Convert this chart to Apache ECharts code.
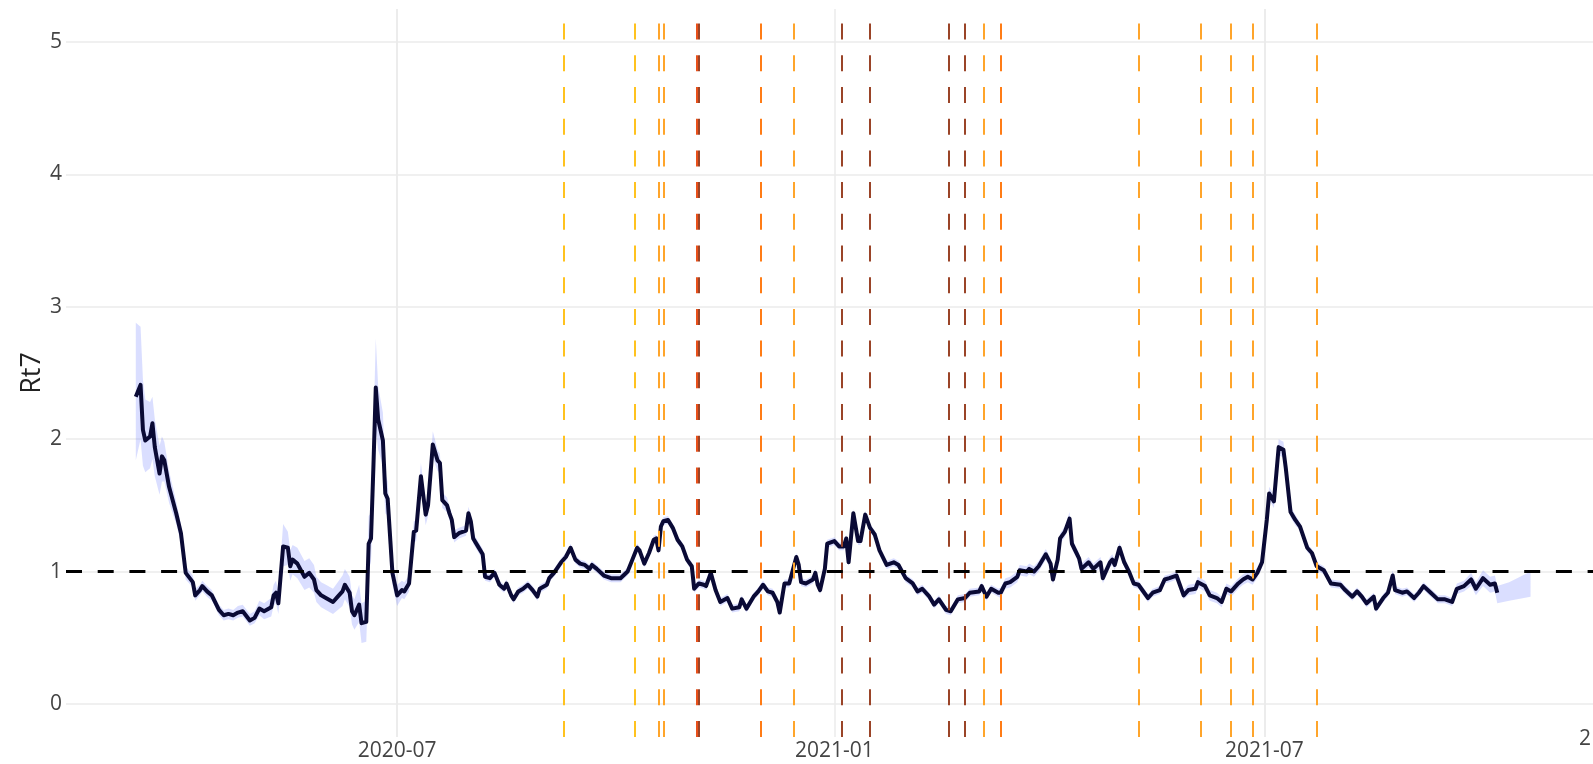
<!DOCTYPE html>
<html>
<head>
<meta charset="utf-8">
<script src="https://cdn.jsdelivr.net/npm/echarts@6/dist/echarts.min.js"></script>
<style>
  html, body { margin: 0; padding: 0; background: #fff; }
  #chart { width: 1593px; height: 764px; }
</style>
</head>
<body>
<div id="chart"></div>
<script>
const dates = [
  "2020-03-13","2020-03-15","2020-03-16","2020-03-17","2020-03-19","2020-03-20","2020-03-21","2020-03-23","2020-03-24","2020-03-25",
  "2020-03-27","2020-03-30","2020-04-01","2020-04-03","2020-04-06","2020-04-07","2020-04-09","2020-04-10","2020-04-12","2020-04-14",
  "2020-04-17","2020-04-19","2020-04-21","2020-04-23","2020-04-25","2020-04-27","2020-04-30","2020-05-02","2020-05-04","2020-05-06",
  "2020-05-09","2020-05-10","2020-05-11","2020-05-12","2020-05-14","2020-05-16","2020-05-17","2020-05-18","2020-05-20","2020-05-23",
  "2020-05-25","2020-05-27","2020-05-28","2020-05-30","2020-06-01","2020-06-04","2020-06-06","2020-06-08","2020-06-09","2020-06-11",
  "2020-06-12","2020-06-13","2020-06-15","2020-06-16","2020-06-18","2020-06-19","2020-06-20","2020-06-21","2020-06-22","2020-06-23",
  "2020-06-25","2020-06-26","2020-06-27","2020-06-29","2020-07-01","2020-07-03","2020-07-04","2020-07-06","2020-07-08","2020-07-09",
  "2020-07-11","2020-07-13","2020-07-14","2020-07-16","2020-07-18","2020-07-19","2020-07-20","2020-07-22","2020-07-23","2020-07-24",
  "2020-07-25","2020-07-27","2020-07-30","2020-07-31","2020-08-01","2020-08-02","2020-08-04","2020-08-06","2020-08-07","2020-08-09",
  "2020-08-11","2020-08-13","2020-08-15","2020-08-16","2020-08-18","2020-08-19","2020-08-21","2020-08-23","2020-08-25","2020-08-27",
  "2020-08-29","2020-08-30","2020-09-02","2020-09-03","2020-09-05","2020-09-08","2020-09-10","2020-09-12","2020-09-14","2020-09-16",
  "2020-09-18","2020-09-20","2020-09-21","2020-09-23","2020-09-26","2020-09-29","2020-10-01","2020-10-03","2020-10-06","2020-10-08",
  "2020-10-10","2020-10-11","2020-10-13","2020-10-15","2020-10-17","2020-10-18","2020-10-19","2020-10-20","2020-10-21","2020-10-23",
  "2020-10-25","2020-10-27","2020-10-29","2020-10-31","2020-11-02","2020-11-03","2020-11-05","2020-11-07","2020-11-08","2020-11-10",
  "2020-11-12","2020-11-14","2020-11-17","2020-11-19","2020-11-22","2020-11-23","2020-11-25","2020-11-28","2020-11-30","2020-12-02",
  "2020-12-04","2020-12-06","2020-12-08","2020-12-09","2020-12-11","2020-12-13","2020-12-16","2020-12-17","2020-12-18","2020-12-20",
  "2020-12-23","2020-12-24","2020-12-25","2020-12-26","2020-12-28","2020-12-29","2021-01-01","2021-01-03","2021-01-05","2021-01-06",
  "2021-01-07","2021-01-09","2021-01-11","2021-01-12","2021-01-14","2021-01-16","2021-01-18","2021-01-20","2021-01-23","2021-01-26",
  "2021-01-28","2021-01-31","2021-02-03","2021-02-05","2021-02-07","2021-02-10","2021-02-12","2021-02-14","2021-02-17","2021-02-19",
  "2021-02-22","2021-02-25","2021-02-27","2021-03-03","2021-03-04","2021-03-06","2021-03-08","2021-03-11","2021-03-12","2021-03-14",
  "2021-03-16","2021-03-19","2021-03-20","2021-03-23","2021-03-24","2021-03-26","2021-03-28","2021-03-31","2021-04-02","2021-04-03",
  "2021-04-05","2021-04-06","2021-04-08","2021-04-10","2021-04-11","2021-04-14","2021-04-15","2021-04-18","2021-04-20","2021-04-23",
  "2021-04-24","2021-04-27","2021-04-28","2021-04-29","2021-05-01","2021-05-03","2021-05-05","2021-05-07","2021-05-09","2021-05-13",
  "2021-05-15","2021-05-18","2021-05-20","2021-05-22","2021-05-25","2021-05-28","2021-05-30","2021-06-02","2021-06-03","2021-06-06",
  "2021-06-08","2021-06-11","2021-06-13","2021-06-15","2021-06-17","2021-06-20","2021-06-22","2021-06-24","2021-06-26","2021-06-28",
  "2021-06-30","2021-07-02","2021-07-03","2021-07-05","2021-07-07","2021-07-09","2021-07-10","2021-07-12","2021-07-14","2021-07-16",
  "2021-07-19","2021-07-21","2021-07-23","2021-07-26","2021-07-29","2021-08-02","2021-08-04","2021-08-07","2021-08-09","2021-08-11",
  "2021-08-13","2021-08-16","2021-08-17","2021-08-20","2021-08-22","2021-08-24","2021-08-25","2021-08-28","2021-08-30","2021-09-02",
  "2021-09-04","2021-09-06","2021-09-09","2021-09-12","2021-09-15","2021-09-18","2021-09-20","2021-09-23","2021-09-26","2021-09-28",
  "2021-10-01","2021-10-04","2021-10-06","2021-10-07","2021-10-12","2021-10-21"
];

const rt7 = [
  2.32,2.41,2.07,1.99,2.02,2.12,1.94,1.74,1.87,1.84,
  1.64,1.44,1.29,0.99,0.92,0.82,0.86,0.89,0.85,0.82,
  0.71,0.67,0.68,0.67,0.69,0.70,0.63,0.65,0.72,0.70,
  0.73,0.82,0.84,0.76,1.19,1.18,1.04,1.09,1.06,0.96,
  0.99,0.94,0.86,0.82,0.80,0.77,0.81,0.85,0.90,0.84,
  0.70,0.67,0.75,0.61,0.62,1.21,1.25,1.79,2.39,2.15,
  1.99,1.59,1.55,0.99,0.82,0.86,0.85,0.91,1.30,1.31,
  1.72,1.43,1.50,1.96,1.84,1.82,1.54,1.50,1.44,1.39,
  1.26,1.29,1.31,1.44,1.38,1.25,1.19,1.13,0.96,0.95,
  0.99,0.90,0.87,0.91,0.82,0.79,0.85,0.87,0.90,0.86,
  0.81,0.87,0.90,0.95,0.99,1.07,1.11,1.18,1.09,1.06,
  1.05,1.02,1.05,1.02,0.97,0.95,0.95,0.95,1.00,1.09,
  1.18,1.16,1.06,1.14,1.24,1.25,1.16,1.34,1.38,1.39,
  1.33,1.24,1.19,1.09,1.04,0.87,0.91,0.90,0.89,0.99,
  0.86,0.77,0.80,0.72,0.73,0.79,0.72,0.81,0.85,0.90,
  0.85,0.84,0.77,0.69,0.91,0.91,1.11,1.05,0.92,0.91,
  0.94,0.99,0.90,0.86,1.02,1.21,1.23,1.19,1.19,1.25,
  1.07,1.44,1.23,1.23,1.43,1.33,1.28,1.16,1.05,1.07,
  1.05,0.95,0.91,0.85,0.87,0.81,0.75,0.79,0.71,0.70,
  0.79,0.80,0.84,0.85,0.89,0.81,0.87,0.84,0.84,0.91,
  0.92,0.96,1.01,1.00,1.02,1.00,1.04,1.13,1.06,0.94,
  1.09,1.25,1.30,1.40,1.21,1.10,1.02,1.07,1.02,1.07,
  0.95,1.07,1.09,1.05,1.18,1.07,1.00,0.91,0.90,0.80,
  0.84,0.86,0.94,0.95,0.97,0.82,0.86,0.87,0.92,0.89,
  0.82,0.80,0.77,0.87,0.85,0.91,0.94,0.96,0.94,0.99,
  1.07,1.39,1.59,1.53,1.94,1.92,1.78,1.45,1.39,1.34,
  1.18,1.14,1.04,1.01,0.91,0.90,0.86,0.81,0.85,0.81,
  0.76,0.81,0.72,0.80,0.84,0.97,0.86,0.84,0.85,0.80,
  0.84,0.89,0.84,0.79,0.79,0.77,0.87,0.89,0.94,0.87,
  0.95,0.90,0.91,0.84,null,null
];

const rtLow = [
  1.84,2.00,1.80,1.75,1.78,1.85,1.72,1.58,1.68,1.68,
  1.52,1.36,1.22,0.94,0.88,0.78,0.82,0.85,0.81,0.78,
  0.67,0.63,0.64,0.63,0.65,0.66,0.59,0.61,0.67,0.64,
  0.66,0.74,0.76,0.68,1.04,1.05,0.93,0.98,0.95,0.86,
  0.88,0.84,0.77,0.73,0.71,0.68,0.71,0.74,0.79,0.73,
  0.60,0.56,0.62,0.46,0.47,1.00,1.08,1.55,2.08,1.92,
  1.80,1.44,1.42,0.90,0.74,0.80,0.79,0.85,1.22,1.23,
  1.62,1.35,1.42,1.86,1.76,1.75,1.48,1.45,1.39,1.34,
  1.22,1.25,1.27,1.39,1.33,1.21,1.15,1.09,0.93,0.92,
  0.96,0.87,0.84,0.88,0.79,0.76,0.82,0.84,0.87,0.83,
  0.78,0.84,0.87,0.92,0.96,1.04,1.08,1.15,1.06,1.03,
  1.02,0.99,1.02,0.99,0.94,0.92,0.92,0.92,0.97,1.06,
  1.15,1.13,1.03,1.11,1.21,1.22,1.13,1.31,1.35,1.36,
  1.30,1.21,1.16,1.06,1.01,0.84,0.88,0.87,0.86,0.96,
  0.83,0.74,0.77,0.69,0.70,0.76,0.69,0.78,0.82,0.87,
  0.82,0.81,0.74,0.66,0.88,0.88,1.08,1.02,0.89,0.88,
  0.91,0.96,0.87,0.83,0.99,1.18,1.20,1.16,1.16,1.22,
  1.04,1.41,1.20,1.20,1.40,1.30,1.25,1.13,1.02,1.04,
  1.02,0.92,0.88,0.82,0.84,0.78,0.72,0.76,0.68,0.67,
  0.76,0.77,0.81,0.82,0.86,0.78,0.84,0.81,0.80,0.87,
  0.88,0.92,0.97,0.96,0.98,0.96,1.00,1.09,1.02,0.90,
  1.05,1.21,1.26,1.35,1.17,1.06,0.98,1.03,0.98,1.03,
  0.91,1.03,1.05,1.01,1.14,1.03,0.97,0.88,0.87,0.77,
  0.81,0.83,0.91,0.92,0.94,0.79,0.82,0.83,0.88,0.85,
  0.78,0.76,0.73,0.83,0.81,0.87,0.90,0.92,0.90,0.95,
  1.03,1.35,1.54,1.48,1.88,1.86,1.73,1.41,1.35,1.31,
  1.15,1.11,1.01,0.98,0.88,0.87,0.83,0.78,0.82,0.78,
  0.73,0.78,0.69,0.77,0.81,0.93,0.83,0.81,0.82,0.77,
  0.81,0.86,0.81,0.76,0.76,0.74,0.83,0.85,0.89,0.82,
  0.89,0.84,0.85,0.76,0.78,0.81
];

const rtHigh = [
  2.88,2.85,2.45,2.30,2.28,2.32,2.15,1.95,2.02,1.98,
  1.76,1.53,1.36,1.04,0.97,0.87,0.90,0.93,0.89,0.86,
  0.75,0.71,0.72,0.71,0.74,0.75,0.68,0.70,0.78,0.76,
  0.80,0.90,0.93,0.85,1.36,1.30,1.16,1.20,1.18,1.08,
  1.10,1.05,0.96,0.92,0.90,0.87,0.92,0.97,1.02,0.96,
  0.82,0.79,0.90,0.76,0.78,1.42,1.44,2.05,2.76,2.40,
  2.20,1.74,1.68,1.10,0.90,0.93,0.92,0.97,1.38,1.39,
  1.82,1.51,1.58,2.06,1.92,1.89,1.60,1.56,1.49,1.44,
  1.31,1.33,1.35,1.49,1.43,1.29,1.23,1.17,0.99,0.98,
  1.02,0.93,0.90,0.94,0.85,0.82,0.88,0.90,0.93,0.89,
  0.84,0.90,0.93,0.98,1.02,1.10,1.14,1.21,1.12,1.09,
  1.08,1.05,1.08,1.05,1.00,0.98,0.98,0.98,1.03,1.12,
  1.21,1.19,1.09,1.17,1.27,1.28,1.19,1.37,1.41,1.42,
  1.36,1.27,1.22,1.12,1.07,0.90,0.94,0.93,0.92,1.02,
  0.89,0.80,0.83,0.75,0.76,0.82,0.75,0.84,0.88,0.93,
  0.88,0.87,0.80,0.72,0.94,0.94,1.14,1.08,0.95,0.94,
  0.97,1.02,0.93,0.89,1.05,1.24,1.26,1.22,1.22,1.28,
  1.10,1.47,1.26,1.26,1.46,1.36,1.31,1.19,1.08,1.10,
  1.08,0.98,0.94,0.88,0.90,0.84,0.78,0.82,0.74,0.73,
  0.82,0.83,0.87,0.88,0.92,0.84,0.90,0.87,0.88,0.95,
  0.96,1.00,1.05,1.04,1.06,1.04,1.08,1.17,1.10,0.98,
  1.13,1.29,1.34,1.45,1.25,1.14,1.06,1.11,1.06,1.11,
  0.99,1.11,1.13,1.09,1.22,1.11,1.03,0.94,0.93,0.83,
  0.87,0.89,0.97,0.98,1.00,0.86,0.90,0.91,0.96,0.93,
  0.86,0.84,0.81,0.91,0.89,0.95,0.98,1.00,0.99,1.03,
  1.11,1.44,1.64,1.58,2.00,1.98,1.83,1.49,1.43,1.37,
  1.21,1.17,1.07,1.04,0.94,0.93,0.89,0.84,0.88,0.84,
  0.79,0.84,0.75,0.83,0.87,1.01,0.89,0.87,0.88,0.83,
  0.87,0.92,0.87,0.82,0.82,0.80,0.91,0.93,0.99,0.92,
  1.01,0.96,0.97,0.89,0.92,1.00
];

// dates of the vertical markers and their level (1 = lightest .. 5 = darkest)
const eventDates = [
  "2020-09-09","2020-10-09","2020-10-19","2020-10-21","2020-11-04","2020-11-05",
  "2020-12-01","2020-12-15","2021-01-04","2021-01-16","2021-02-18","2021-02-25",
  "2021-03-05","2021-03-12","2021-05-09","2021-06-04","2021-06-17","2021-06-26","2021-07-23"
];
const eventLevels = [1,1,2,2,4,5,3,2,5,5,5,5,2,3,2,2,2,2,2];

const xTicks = ["2020-07-01", "2021-01-01", "2021-07-01"];
const yTicks = [0, 1, 2, 3, 4, 5];
const threshold = 1;

const levelColors = {
  1: "#ffc21f",
  2: "#ffa52b",
  3: "#ff7c16",
  4: "#e8501a",
  5: "#9a4428",
};

const yMin = -0.25;
const yMax = 5.25;
const tickFont = { fontFamily: "Open Sans", fontSize: 21, color: "#444" };

const chart = echarts.init(document.getElementById("chart"));

const lineData = dates.map((d, i) => [d, rt7[i]]);
const lowData = dates.map((d, i) => [d, rtLow[i]]);
const spanData = dates.map((d, i) => [d, +(rtHigh[i] - rtLow[i]).toFixed(3)]);

const eventLines = eventDates.map((d, i) => {
  const t = +echarts.time.parse(d);
  return [
    { coord: [t, yMin], lineStyle: { color: levelColors[eventLevels[i]] } },
    { coord: [t, yMax] },
  ];
});

const option = {
  animation: false,
  backgroundColor: "#fff",
  grid: { left: 66, right: 0, top: 9, bottom: 27 },
  xAxis: {
    type: "time",
    min: "2020-02-12 15:00:00",
    max: "2021-11-16 07:00:00",
    axisLine: { show: false },
    axisTick: { show: false, customValues: xTicks },
    axisLabel: {
      customValues: xTicks,
      formatter: "{yyyy}-{MM}",
      margin: 4,
      ...tickFont,
    },
    splitLine: { show: true, lineStyle: { color: "#ebebeb", width: 1.5 } },
  },
  yAxis: {
    type: "value",
    min: yMin,
    max: yMax,
    name: "Rt7",
    nameLocation: "middle",
    nameGap: 20,
    nameMoveOverlap: false,
    nameTextStyle: { fontFamily: "Open Sans", fontSize: 27, color: "#222" },
    axisLine: { show: false },
    axisTick: { show: false, customValues: yTicks },
    axisLabel: { customValues: yTicks, margin: 4, ...tickFont },
    splitLine: { show: true, lineStyle: { color: "#ebebeb", width: 1.5 } },
  },
  graphic: [
    {
      type: "text",
      left: 1579,
      top: 729,
      style: { text: "2", font: '21px "Open Sans"', fill: "#444" },
    },
  ],
  series: [
    {
      name: "events",
      type: "line",
      data: [],
      z: 1,
      markLine: {
        silent: true,
        symbol: ["none", "none"],
        label: { show: false },
        lineStyle: { type: [16, 15.7], width: 2 },
        emphasis: { disabled: true },
        data: eventLines,
      },
    },
    {
      name: "low",
      type: "line",
      data: lowData,
      stack: "ci",
      symbol: "none",
      silent: true,
      lineStyle: { opacity: 0 },
      z: 2,
    },
    {
      name: "band",
      type: "line",
      data: spanData,
      stack: "ci",
      symbol: "none",
      silent: true,
      lineStyle: { opacity: 0 },
      areaStyle: { color: "rgba(60,80,255,0.27)" },
      z: 2,
    },
    {
      name: "threshold",
      type: "line",
      data: [],
      z: 3,
      markLine: {
        silent: true,
        symbol: ["none", "none"],
        label: { show: false },
        lineStyle: { type: [16, 15.7], width: 3, color: "#000" },
        data: [{ yAxis: threshold }],
      },
    },
    {
      name: "Rt7",
      type: "line",
      data: lineData,
      symbol: "none",
      connectNulls: false,
      lineStyle: { color: "#0a0a35", width: 4, join: "round" },
      z: 4,
    },
  ],
};

chart.setOption(option);
</script>
</body>
</html>
